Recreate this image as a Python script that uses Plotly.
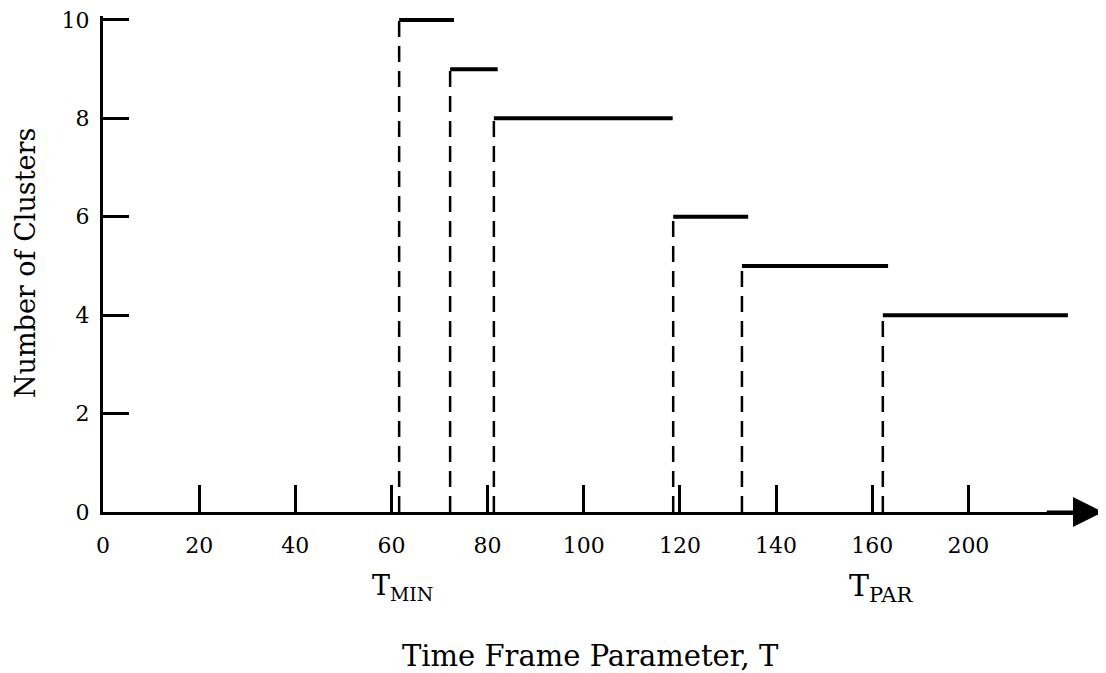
import plotly.graph_objects as go

# Step data
t_start = [61.6, 72.2, 81.3, 118.6, 132.9, 162.2]
t_end = [73.0, 82.1, 118.5, 134.2, 163.3, 200.7]
n_clusters = [10, 9, 8, 6, 5, 4]

x_tickvals = [0, 20, 40, 60, 80, 100, 120, 140, 160, 180]
x_ticktext = ["0", "20", "40", "60", "80", "100", "120", "140", "160", "200"]
y_tickvals = [0, 2, 4, 6, 8, 10]

FONT = "DejaVu Serif"

vx, vy, hx, hy = [], [], [], []
for s, e, n in zip(t_start, t_end, n_clusters):
    vx += [s, s, None]
    vy += [0, n, None]
    hx += [s, e, None]
    hy += [n, n, None]

fig = go.Figure()
fig.add_trace(go.Scatter(x=vx, y=vy, mode="lines",
                         line=dict(color="black", width=2.5, dash="16px,9px"),
                         showlegend=False, hoverinfo="skip"))
fig.add_trace(go.Scatter(x=hx, y=hy, mode="lines",
                         line=dict(color="black", width=4),
                         showlegend=False, hoverinfo="skip"))

# page has an 8px body margin, so the figure is sized/offset to compensate
fig.update_layout(
    width=1098, height=665,
    margin=dict(l=95, r=3, t=8, b=161, autoexpand=False),
    plot_bgcolor="white", paper_bgcolor="white",
    font=dict(family=FONT, color="black", size=22),
    xaxis=dict(range=[0, 208], showgrid=False, zeroline=False,
               showline=True, linecolor="black", linewidth=3,
               ticks="inside", ticklen=27, tickwidth=3, tickcolor="black",
               tickvals=x_tickvals, ticktext=x_ticktext, ticklabelstandoff=12,
               ticklabeloverflow="allow", automargin=False,
               tickfont=dict(family=FONT, size=22, color="black")),
    yaxis=dict(range=[0, 10.08], showgrid=False, zeroline=False,
               showline=True, linecolor="black", linewidth=3,
               ticks="inside", ticklen=26, tickwidth=3, tickcolor="black",
               tickvals=y_tickvals, ticklabelstandoff=6,
               ticklabeloverflow="allow", automargin=False,
               tickfont=dict(family=FONT, size=22, color="black")),
)

# arrow at the end of the x axis
fig.add_annotation(x=208, y=0, ax=196, ay=0, xref="x", yref="y",
                   axref="x", ayref="y", text="", showarrow=True,
                   arrowhead=2, arrowsize=2, arrowwidth=3, arrowcolor="black")

fig.add_annotation(text="Number of Clusters", textangle=-90,
                   xref="paper", yref="paper", x=-0.078, y=0.502,
                   xanchor="center", yanchor="middle", showarrow=False,
                   font=dict(family=FONT, size=27, color="black"))
fig.add_annotation(text="Time Frame Parameter, T",
                   xref="paper", yref="paper", x=0.487, y=-0.2907,
                   xanchor="center", yanchor="middle", showarrow=False,
                   font=dict(family=FONT, size=29, color="black"))
fig.add_annotation(text="T<sub>MIN</sub>", xref="x", yref="paper",
                   x=62.3, y=-0.152, xanchor="center", yanchor="middle",
                   showarrow=False, font=dict(family=FONT, size=27, color="black"))
fig.add_annotation(text="T<sub>PAR</sub>", xref="x", yref="paper",
                   x=161.8, y=-0.152, xanchor="center", yanchor="middle",
                   showarrow=False, font=dict(family=FONT, size=30, color="black"))

fig.write_html("out.html")
